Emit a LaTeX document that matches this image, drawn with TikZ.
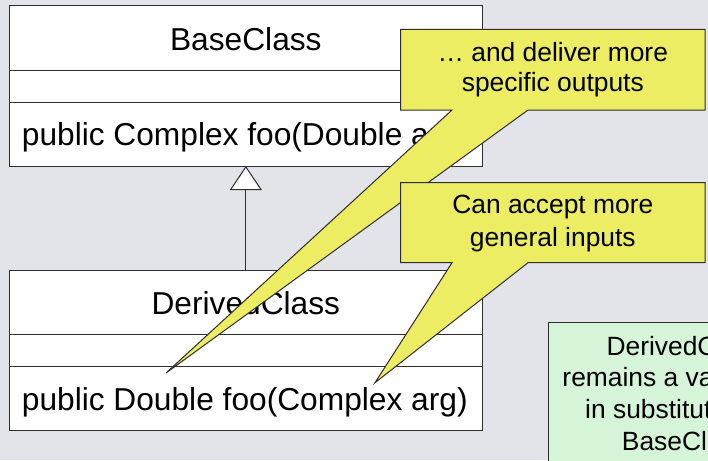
\documentclass[tikz,border=0pt]{standalone}
\usepackage{fontspec}
\setmainfont{Liberation Sans}
\usetikzlibrary{arrows.meta}
\definecolor{bg}{RGB}{227,228,233}
\definecolor{callyellow}{RGB}{237,237,100}
\definecolor{notegreen}{RGB}{214,245,216}
\definecolor{edgecol}{RGB}{45,45,45}
\tikzset{
  classpart/.style={draw=edgecol, line width=1pt, fill=white, inner sep=0pt,
    minimum width=473.7pt, outer sep=0pt},
  classtext/.style={anchor=base, inner sep=0pt, font=\fontsize{31.7}{38}\selectfont},
  calltext/.style={anchor=base, inner sep=0pt, font=\fontsize{26.4}{31.7}\selectfont},
  callshape/.style={draw=edgecol, line width=1pt, fill=callyellow, line join=miter},
  notebox/.style={draw=edgecol, line width=1pt, fill=notegreen},
  genarrow/.style={draw=edgecol, line width=1pt,
    -{Triangle[open, length=24pt, width=32pt, fill=white]}}
}
\begin{document}
\begin{tikzpicture}[x=1pt,y=-1pt]
\clip (0,0) rectangle (708,460);
\fill[bg] (0,0) rectangle (708,460);

% BaseClass
\node[classpart, minimum height=64pt] (bname) at (245.85,38) {};
\node[classpart, minimum height=32pt] (battr) at (245.85,86) {};
\node[classpart, minimum height=64pt] (bop) at (245.85,134) {};
\node[classtext] (btitle) at (245.85,50) {BaseClass};
\node[classtext, anchor=base west] (bmeth) at (21.7,145.7) {public Complex foo(Double arg)};

% DerivedClass
\node[classpart, minimum height=64.3pt] (dname) at (245.85,302.15) {};
\node[classpart, minimum height=32.4pt] (dattr) at (245.85,350.5) {};
\node[classpart, minimum height=64pt] (dop) at (245.85,398.7) {};
\node[classtext] (dtitle) at (245.85,314) {DerivedClass};
\node[classtext, anchor=base west] (dmeth) at (21.7,410) {public Double foo(Complex arg)};

% generalization
\draw[genarrow] (dname.north) -- (bop.south);

% callout 1
\coordinate (tip1) at (166,373);
\path[callshape] (400.7,29.3) -- (705,29.3) -- (705,110) -- (528,110) -- (tip1)
  -- (452,110) -- (400.7,110) -- cycle;
\node[calltext] (c1a) at (552.8,61.7) {… and deliver more};
\node[calltext] (c1b) at (552.8,91.7) {specific outputs};

% callout 2
\coordinate (tip2) at (375,382.7);
\path[callshape] (400.7,182.7) -- (705,182.7) -- (705,262.7) -- (528,262.7) -- (tip2)
  -- (452,262.7) -- (400.7,262.7) -- cycle;
\node[calltext] (c2a) at (552.8,213.3) {Can accept more};
\node[calltext] (c2b) at (552.8,246) {general inputs};

% note
\path[notebox] (548.3,322.7) rectangle (822,480);
\node[calltext] (n1) at (685,355) {DerivedClass};
\node[calltext] (n2) at (685,386.7) {remains a valid class};
\node[calltext] (n3) at (685,418.3) {in substitution for};
\node[calltext] (n4) at (685,450) {BaseClass};
\end{tikzpicture}
\end{document}
